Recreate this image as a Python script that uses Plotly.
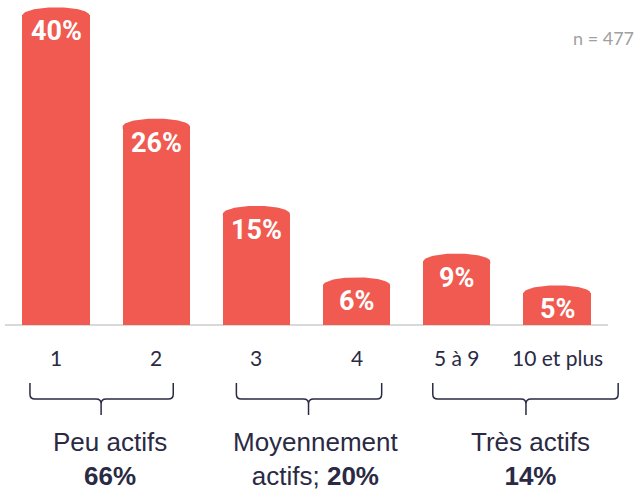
import numpy as np
import plotly.graph_objects as go

# ---- data ----
categories = ["1", "2", "3", "4", "5 à 9", "10 et plus"]
values = [40, 26, 15, 6, 9, 5]
group_names = ["Peu actifs<br>", "Moyennement<br>actifs; ", "Très actifs<br>"]
group_pcts = [66, 20, 14]
sample_label = "n = 477"

# ---- style / layout constants ----
BAR_COLOR = "#F05A50"
TEXT_COLOR = "#2A2A44"
BAR_W = 0.67
CAP_H = 1.0
X_RANGE = [-0.559, 5.808]
Y_RANGE = [-20.78, 40.93]
brace_spans = [(-0.26, 1.17, 0.45), (1.80, 3.25, 2.52), (3.76, 5.61, 4.69)]
group_x = [0.54, 2.59, 4.74]

x_idx = np.arange(len(categories))
vals = np.array(values, dtype=float)

fig = go.Figure()

# bar bodies
fig.add_trace(go.Bar(
    x=x_idx, y=vals - CAP_H, width=BAR_W,
    marker=dict(color=BAR_COLOR, line=dict(width=0)),
    hoverinfo="skip",
))

# elliptical caps
t = np.linspace(0, np.pi, 60)
hw = BAR_W / 2
for xi, v in zip(x_idx, vals):
    base = v - CAP_H
    cx = np.concatenate([[xi + hw], xi + hw * np.cos(t), [xi - hw]])
    cy = np.concatenate([[base - 0.3], base + CAP_H * np.sin(t), [base - 0.3]])
    fig.add_trace(go.Scatter(
        x=cx, y=cy, mode="lines", fill="toself",
        fillcolor=BAR_COLOR, line=dict(width=0, color=BAR_COLOR),
        hoverinfo="skip",
    ))

annotations = []
# value labels inside bars
for xi, v in zip(x_idx, values):
    annotations.append(dict(
        x=xi, y=v, xref="x", yref="y", text=f"{v}%", showarrow=False,
        yanchor="middle", xanchor="center", yshift=-24,
        font=dict(family="Roboto, sans-serif", size=27, color="white", weight="bold"),
    ))
# category labels
for xi, c in zip(x_idx, categories):
    annotations.append(dict(
        x=xi, y=-4.03, xref="x", yref="y", text=c, showarrow=False,
        yanchor="middle", xanchor="center",
        font=dict(family="Lato, sans-serif", size=21, color=TEXT_COLOR),
    ))
# group labels
for gx, name, pct in zip(group_x, group_names, group_pcts):
    annotations.append(dict(
        x=gx, y=-16.9, xref="x", yref="y", text=f"{name}<b>{pct}%</b>",
        showarrow=False, yanchor="middle", xanchor="center", align="center",
        font=dict(family="Liberation Sans, Arial, sans-serif", size=26, color=TEXT_COLOR),
    ))
# sample size
annotations.append(dict(
    x=0.997, y=0.922, xref="paper", yref="paper", text=sample_label, showarrow=False,
    xanchor="right", yanchor="middle",
    font=dict(family="Lato, sans-serif", size=18, color="#A0A0A0"),
))

shapes = []
# axis baseline
shapes.append(dict(type="line", xref="x", yref="y", x0=-0.51, x1=5.51, y0=0, y1=0,
                   line=dict(color="#D9D9D9", width=2), layer="below"))
# braces
y_top, y_h, y_pt = -7.3, -9.32, -11.33
dx, dy = 0.05, 0.6
for x0, x1, xc in brace_spans:
    path = (
        f"M {x0},{y_top} L {x0},{y_h + dy} Q {x0},{y_h} {x0 + dx},{y_h} "
        f"L {xc - dx},{y_h} Q {xc},{y_h} {xc},{y_h - dy} L {xc},{y_pt} "
        f"M {xc},{y_h - dy} Q {xc},{y_h} {xc + dx},{y_h} "
        f"L {x1 - dx},{y_h} Q {x1},{y_h} {x1},{y_h + dy} L {x1},{y_top}"
    )
    shapes.append(dict(type="path", xref="x", yref="y", path=path,
                       line=dict(color=TEXT_COLOR, width=1.5)))

fig.update_layout(
    width=638, height=490,
    margin=dict(l=0, r=0, t=0, b=0),
    paper_bgcolor="white", plot_bgcolor="white",
    showlegend=False,
    xaxis=dict(range=X_RANGE, visible=False, fixedrange=True),
    yaxis=dict(range=Y_RANGE, visible=False, fixedrange=True),
    annotations=annotations,
    shapes=shapes,
    bargap=0,
)

fig.write_html(
    "out.html",
    config={"displayModeBar": False},
    post_script="document.body.style.margin='0';document.body.style.overflow='hidden';",
)
